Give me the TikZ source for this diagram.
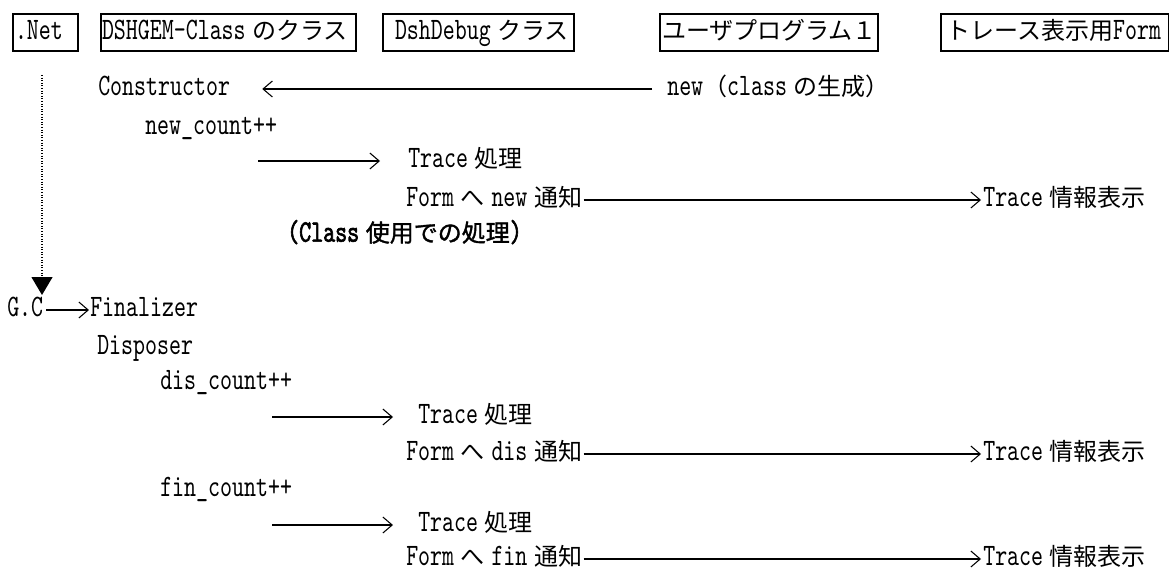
\documentclass[tikz,border=0pt]{standalone}
\usepackage{fontspec}
\setmainfont{lmmono10-regular.otf}[Scale=1.3,FakeStretch=0.731]
\newfontfamily\cjkf{Noto Sans CJK JP}
\newfontfamily\cjkbf{Noto Sans CJK JP}[FakeBold=1.5]
\newfontfamily\monob{lmmono10-regular.otf}[Scale=1.3,FakeStretch=0.731,FakeBold=2]
\usetikzlibrary{arrows.meta}
\newcommand\cjk[1]{{\cjkf #1}}
\newcommand\cjkb[1]{{\cjkbf #1}}
\newcommand\jg{\hspace{5pt}}
\newcommand\hb[3]{\makebox[#1][l]{\hspace*{#2}#3}}
\begin{document}
\begin{tikzpicture}[x=0.75pt,y=-0.75pt,
  every node/.style={font=\fontsize{18pt}{22pt}\selectfont},
  txt/.style={inner sep=0pt, anchor=west, text height=12pt, text depth=2pt},
  hdr/.style={draw, line width=1.5pt, inner sep=0pt, anchor=west, minimum height=27.75pt, text height=12pt, text depth=2pt},
  chev/.style={line width=0.8pt, -{Straight Barb[length=7pt,width=12pt]}},
  lifeline/.style={line width=0.9pt, dash pattern=on 0.75pt off 1.2pt, -{Triangle[length=13.5pt,width=15.75pt]}}
]
\useasboundingbox (0,0) rectangle (1169,574);

% header boxes
\node[hdr] (hnet) at (12,32.5) {\hb{48.75pt}{1.5pt}{.Net}};
\node[hdr] (hdsh) at (100,32.5) {\hb{191.25pt}{0.75pt}{DSHGEM-Class\jg\cjk{のクラス}}};
\node[hdr] (hdbg) at (382,32.5) {\hb{143.25pt}{9pt}{DshDebug\jg\cjk{クラス}}};
\node[hdr] (husr) at (659,32.5) {\hb{163.5pt}{1.5pt}{\cjk{ユーザプログラム１}}};
\node[hdr] (hfrm) at (940,32.5) {\hb{171pt}{4pt}{\cjk{トレース表示用}Form}};

% lifeline of .Net
\coordinate (lt) at (42,75);
\coordinate (lb) at (42,295);
\draw[lifeline] (lt) -- (lb);

% block 1
\node[txt] (ctor) at (98,89) {Constructor};
\node[txt] (newc) at (667,89) {new\cjk{（}class\jg\cjk{の生成）}};
\node[txt] (nc) at (145,128) {new\_count++};
\coordinate (a1) at (258,161);
\node[txt] (tr1) at (408,161) {Trace\jg\cjk{処理}};
\node[txt] (fm1) at (406,200) {Form\jg\cjk{へ}\jg new\jg\cjk{通知}};
\node[txt] (inf1) at (983,200) {Trace\jg\cjk{情報表示}};
\node[txt] (cls) at (287,235) {\monob(Class\jg\cjkb{使用での処理})};

\draw[chev, shorten <=11.25pt, shorten >=24pt] (newc.west) -- (ctor.east);
\draw[chev, shorten >=21pt] (a1) -- (tr1.west);
\draw[chev, shorten <=1pt, shorten >=1.5pt] (fm1.east) -- (inf1.west);

% block 2
\node[txt] (gc) at (7,310) {G.C};
\node[txt] (fin) at (90,310) {Finalizer};
\node[txt] (disp) at (97,348) {Disposer};
\node[txt] (dc) at (160,383) {dis\_count++};
\coordinate (a2) at (272,417);
\node[txt] (tr2) at (418,417) {Trace\jg\cjk{処理}};
\node[txt] (fm2) at (406,454) {Form\jg\cjk{へ}\jg dis\jg\cjk{通知}};
\node[txt] (inf2) at (983,454) {Trace\jg\cjk{情報表示}};
\node[txt] (fc) at (160,490) {fin\_count++};
\coordinate (a3) at (272,525);
\node[txt] (tr3) at (418,525) {Trace\jg\cjk{処理}};
\node[txt] (fm3) at (406,559) {Form\jg\cjk{へ}\jg fin\jg\cjk{通知}};
\node[txt] (inf3) at (983,559) {Trace\jg\cjk{情報表示}};

\draw[chev, shorten <=2pt, shorten >=0.75pt] (gc.east) -- (fin.west);
\draw[chev, shorten >=18.75pt] (a2) -- (tr2.west);
\draw[chev, shorten <=1pt, shorten >=1.5pt] (fm2.east) -- (inf2.west);
\draw[chev, shorten >=18.75pt] (a3) -- (tr3.west);
\draw[chev, shorten <=1pt, shorten >=1.5pt] (fm3.east) -- (inf3.west);
\end{tikzpicture}
\end{document}
